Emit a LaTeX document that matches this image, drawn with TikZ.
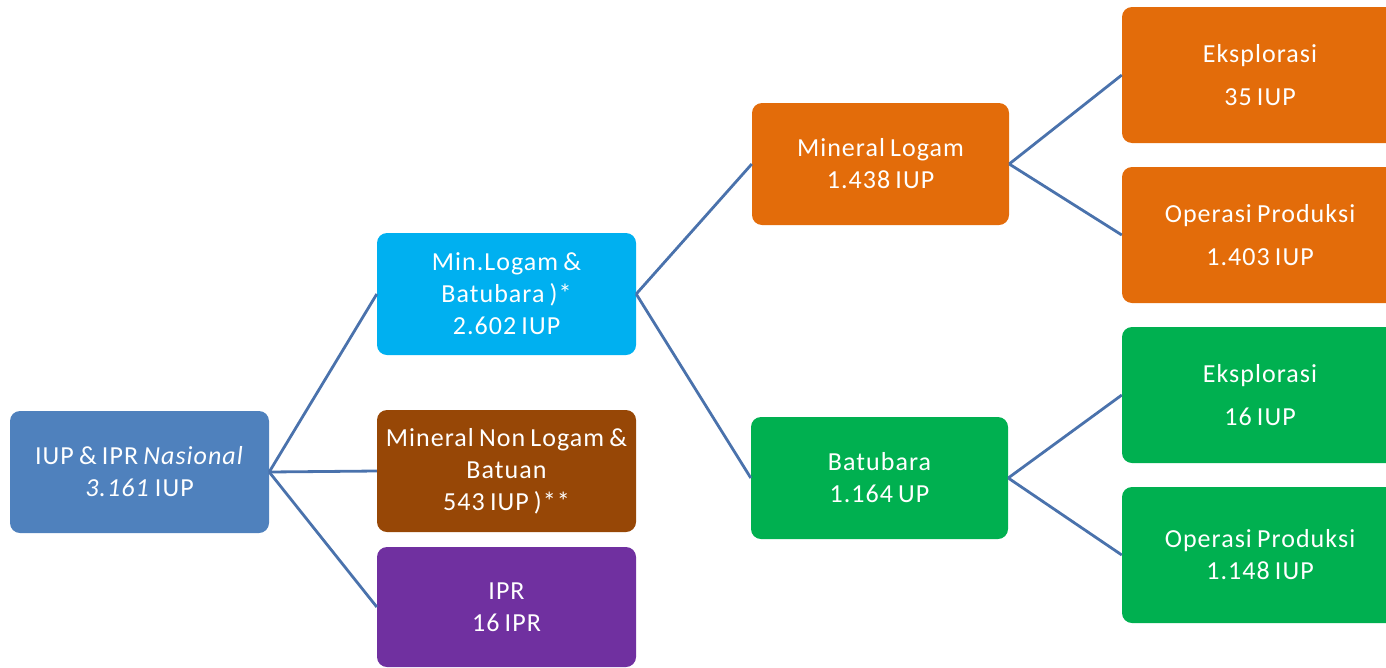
\documentclass[tikz,border=0pt]{standalone}
\usepackage{fontspec}
\setmainfont{Carlito}[LetterSpace=4,WordSpace=0.75]
\definecolor{rootc}{HTML}{4F81BD}
\definecolor{cyanc}{HTML}{00B0F0}
\definecolor{brownc}{HTML}{974706}
\definecolor{purplec}{HTML}{7030A0}
\definecolor{orangec}{HTML}{E36C0A}
\definecolor{greenc}{HTML}{00B050}
\definecolor{linec}{HTML}{4A72AC}
\begin{document}
\begin{tikzpicture}[x=1pt,y=-1pt,
  box/.style={rectangle, rounded corners=10pt, text=white, align=center, inner sep=0pt,
    font=\fontsize{26}{32}\selectfont},
  wide/.style={box, font=\fontsize{26}{43}\selectfont, minimum width=276pt, minimum height=136pt},
  mid/.style={box, minimum width=259pt, minimum height=122pt},
  conn/.style={draw=linec, line width=2.8pt}]
\useasboundingbox (0,0) rectangle (1386,667);
\clip (0,0) rectangle (1386,667);
\node[mid, fill=rootc] (root) at (139.5,472) {IUP \& IPR \textit{Nasional}\\\textit{3.161} IUP};
\node[mid, fill=cyanc] (ml) at (506.5,294) {Min.Logam \&\\Batubara )*\\2.602 IUP};
\node[mid, fill=brownc] (mnl) at (506.5,471) {Mineral Non Logam \&\\Batuan\\543 IUP )**};
\node[mid, fill=purplec, minimum height=120pt] (ipr) at (506.5,607) {IPR\\16 IPR};
\node[mid, fill=orangec, minimum width=257pt] (mlog) at (880.5,164) {Mineral Logam\\1.438 IUP};
\node[mid, fill=greenc, minimum width=257pt] (bb) at (879.5,478) {Batubara\\1.164 UP};
\node[wide, fill=orangec] (ek1) at (1260,75) {Eksplorasi\\35 IUP};
\node[wide, fill=orangec] (op1) at (1260,235) {Operasi Produksi\\1.403 IUP};
\node[wide, fill=greenc] (ek2) at (1260,395) {Eksplorasi\\16 IUP};
\node[box, fill=greenc, minimum width=276pt, minimum height=136pt] (op2) at (1260,555) {Operasi Produksi\\1.148 IUP};
\draw[conn] (root.east) -- (ml.west);
\draw[conn] (root.east) -- (mnl.west);
\draw[conn] (root.east) -- (ipr.west);
\draw[conn] (ml.east) -- (mlog.west);
\draw[conn] (ml.east) -- (bb.west);
\draw[conn] (mlog.east) -- (ek1.west);
\draw[conn] (mlog.east) -- (op1.west);
\draw[conn] (bb.east) -- (ek2.west);
\draw[conn] (bb.east) -- (op2.west);
\end{tikzpicture}
\end{document}
